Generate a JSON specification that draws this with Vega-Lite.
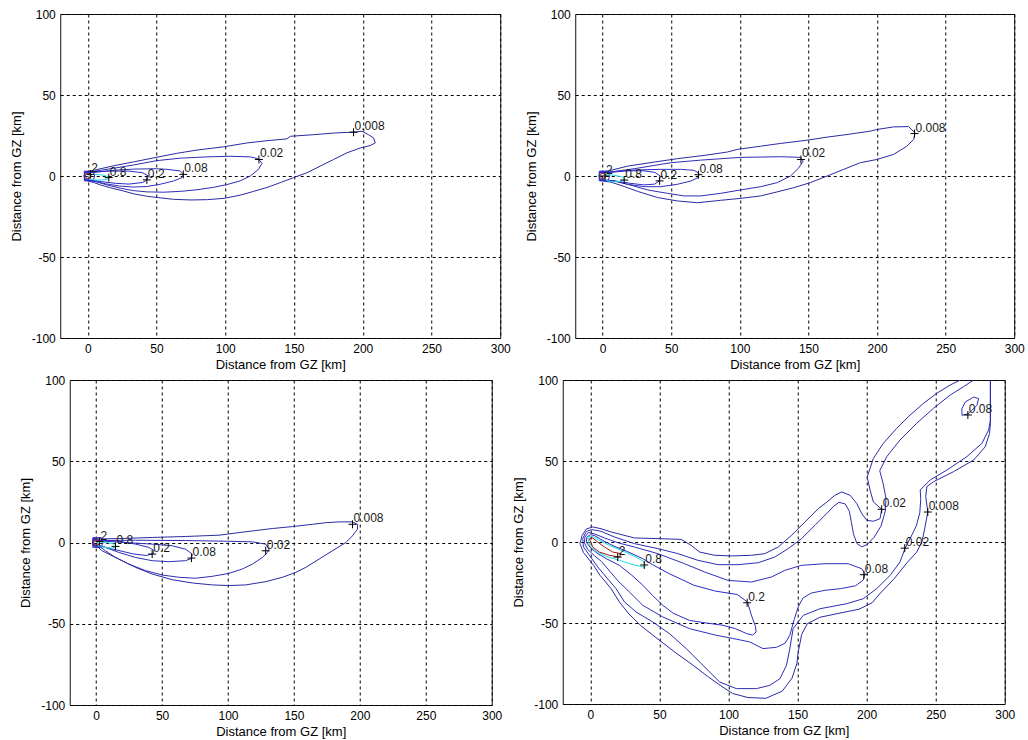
{
"$schema":"https://vega.github.io/schema/vega-lite/v6.json",
"background":"white",
"padding":{"left":9,"top":7,"right":2,"bottom":2},
"config":{
 "view":{"stroke":"#111","strokeWidth":1},
 "axis":{"domain":false,"ticks":false,"tickSize":0,"grid":true,"gridColor":"#000","gridDash":[3,3],"gridOpacity":1,"gridWidth":1,"labelFont":"Liberation Sans","labelFontSize":12,"labelColor":"#000","titleFont":"Liberation Sans","titleFontSize":13,"titleFontWeight":"normal","titleColor":"#000","labelPadding":5},
 "axisX":{"titlePadding":4},
 "axisY":{"titlePadding":8}
},
"datasets":{
"p1":[
{"c":"a","l":"0.008","x":-2,"y":2.5},{"c":"a","l":"0.008","x":4.2,"y":3.5},{"c":"a","l":"0.008","x":18.8,"y":6.3},{"c":"a","l":"0.008","x":33.3,"y":8.7},{"c":"a","l":"0.008","x":50.3,"y":11.6},{"c":"a","l":"0.008","x":64.8,"y":14},{"c":"a","l":"0.008","x":79.4,"y":16},{"c":"a","l":"0.008","x":98.8,"y":18},{"c":"a","l":"0.008","x":115.8,"y":20.4},{"c":"a","l":"0.008","x":130.3,"y":21.8},{"c":"a","l":"0.008","x":144.8,"y":22.9},{"c":"a","l":"0.008","x":147.3,"y":24.5},{"c":"a","l":"0.008","x":164.2,"y":25.5},{"c":"a","l":"0.008","x":178.8,"y":26.5},{"c":"a","l":"0.008","x":193.3,"y":27.1},{"c":"a","l":"0.008","x":199.4,"y":27.6},{"c":"a","l":"0.008","x":204.2,"y":25.5},{"c":"a","l":"0.008","x":207.9,"y":23.5},{"c":"a","l":"0.008","x":209.1,"y":20.4},{"c":"a","l":"0.008","x":205.5,"y":18.8},{"c":"a","l":"0.008","x":198.2,"y":17.3},{"c":"a","l":"0.008","x":188.5,"y":14.3},{"c":"a","l":"0.008","x":178.8,"y":10.2},{"c":"a","l":"0.008","x":169.1,"y":6.1},{"c":"a","l":"0.008","x":159.4,"y":2},{"c":"a","l":"0.008","x":149.7,"y":-1},{"c":"a","l":"0.008","x":140,"y":-4.1},{"c":"a","l":"0.008","x":130.3,"y":-7.1},{"c":"a","l":"0.008","x":120.6,"y":-9.5},{"c":"a","l":"0.008","x":111,"y":-11.8},{"c":"a","l":"0.008","x":99,"y":-13.8},{"c":"a","l":"0.008","x":87,"y":-14.6},{"c":"a","l":"0.008","x":75,"y":-14.8},{"c":"a","l":"0.008","x":62.4,"y":-14.4},{"c":"a","l":"0.008","x":52.7,"y":-13.5},{"c":"a","l":"0.008","x":43,"y":-12.5},{"c":"a","l":"0.008","x":33.4,"y":-11},{"c":"a","l":"0.008","x":26.2,"y":-9.3},{"c":"a","l":"0.008","x":16.5,"y":-7.3},{"c":"a","l":"0.008","x":9.2,"y":-5.5},{"c":"a","l":"0.008","x":4.4,"y":-4},{"c":"a","l":"0.008","x":0,"y":-3},{"c":"a","l":"0.008","x":-2,"y":-2.5},{"c":"a","l":"0.008","x":-2.5,"y":0},{"c":"a","l":"0.008","x":-2,"y":2.5},
{"c":"b","l":"0.02","x":-2,"y":2.5},{"c":"b","l":"0.02","x":4,"y":2.8},{"c":"b","l":"0.02","x":18.8,"y":4.8},{"c":"b","l":"0.02","x":33.3,"y":6.8},{"c":"b","l":"0.02","x":50.3,"y":9.5},{"c":"b","l":"0.02","x":67.3,"y":11},{"c":"b","l":"0.02","x":86.7,"y":11.8},{"c":"b","l":"0.02","x":103.6,"y":12.2},{"c":"b","l":"0.02","x":118.2,"y":11.8},{"c":"b","l":"0.02","x":124.2,"y":10.6},{"c":"b","l":"0.02","x":126.7,"y":7.8},{"c":"b","l":"0.02","x":124.2,"y":4.1},{"c":"b","l":"0.02","x":118.2,"y":0},{"c":"b","l":"0.02","x":110.9,"y":-3},{"c":"b","l":"0.02","x":101.2,"y":-5.3},{"c":"b","l":"0.02","x":91.5,"y":-7},{"c":"b","l":"0.02","x":79.4,"y":-8.5},{"c":"b","l":"0.02","x":67.3,"y":-9.5},{"c":"b","l":"0.02","x":55.2,"y":-10},{"c":"b","l":"0.02","x":43,"y":-9.8},{"c":"b","l":"0.02","x":33,"y":-9},{"c":"b","l":"0.02","x":23.6,"y":-7.5},{"c":"b","l":"0.02","x":13.9,"y":-5.5},{"c":"b","l":"0.02","x":6,"y":-3.5},{"c":"b","l":"0.02","x":0,"y":-2.8},{"c":"b","l":"0.02","x":-2,"y":-2.5},{"c":"b","l":"0.02","x":-2.5,"y":0},{"c":"b","l":"0.02","x":-2,"y":2.5},
{"c":"c","l":"0.08","x":-2,"y":2.5},{"c":"c","l":"0.08","x":4,"y":2.2},{"c":"c","l":"0.08","x":20,"y":3.6},{"c":"c","l":"0.08","x":35,"y":4.3},{"c":"c","l":"0.08","x":50,"y":4.5},{"c":"c","l":"0.08","x":57.6,"y":4.1},{"c":"c","l":"0.08","x":67.3,"y":3.1},{"c":"c","l":"0.08","x":69.7,"y":1},{"c":"c","l":"0.08","x":68.5,"y":-1},{"c":"c","l":"0.08","x":62.4,"y":-3.1},{"c":"c","l":"0.08","x":52.7,"y":-5.1},{"c":"c","l":"0.08","x":43,"y":-6.5},{"c":"c","l":"0.08","x":33,"y":-6.8},{"c":"c","l":"0.08","x":23,"y":-6.2},{"c":"c","l":"0.08","x":13,"y":-4.8},{"c":"c","l":"0.08","x":5,"y":-3.2},{"c":"c","l":"0.08","x":-2,"y":-2.5},{"c":"c","l":"0.08","x":-2.5,"y":0},{"c":"c","l":"0.08","x":-2,"y":2.5},
{"c":"d","l":"0.2","x":-2,"y":2.2},{"c":"d","l":"0.2","x":5,"y":2.5},{"c":"d","l":"0.2","x":15,"y":3},{"c":"d","l":"0.2","x":30,"y":3},{"c":"d","l":"0.2","x":40,"y":2},{"c":"d","l":"0.2","x":44,"y":0},{"c":"d","l":"0.2","x":43,"y":-2.5},{"c":"d","l":"0.2","x":40,"y":-4},{"c":"d","l":"0.2","x":30,"y":-5},{"c":"d","l":"0.2","x":20,"y":-4.5},{"c":"d","l":"0.2","x":10,"y":-3.5},{"c":"d","l":"0.2","x":3,"y":-2.5},{"c":"d","l":"0.2","x":-2,"y":-2.2},{"c":"d","l":"0.2","x":-2.5,"y":0},{"c":"d","l":"0.2","x":-2,"y":2.2},
{"c":"g","l":"0.2","x":-2.5,"y":3},{"c":"g","l":"0.2","x":4,"y":3},{"c":"g","l":"0.2","x":5,"y":0},{"c":"g","l":"0.2","x":4,"y":-3},{"c":"g","l":"0.2","x":-2.5,"y":-3},{"c":"g","l":"0.2","x":-2.5,"y":3},
{"c":"e","l":"0.8","x":1,"y":1},{"c":"e","l":"0.8","x":6,"y":1},{"c":"e","l":"0.8","x":12,"y":0.5},{"c":"e","l":"0.8","x":15.5,"y":-0.8},{"c":"e","l":"0.8","x":15,"y":-1.8},{"c":"e","l":"0.8","x":10,"y":-2.5},{"c":"e","l":"0.8","x":5,"y":-2.5},{"c":"e","l":"0.8","x":1,"y":-1.5},{"c":"e","l":"0.8","x":1,"y":1},
{"c":"f","l":"2","x":-1,"y":1.5},{"c":"f","l":"2","x":1.5,"y":1.5},{"c":"f","l":"2","x":2.5,"y":0},{"c":"f","l":"2","x":1.5,"y":-1.5},{"c":"f","l":"2","x":-1,"y":-1.5},{"c":"f","l":"2","x":-1.8,"y":0},{"c":"f","l":"2","x":-1,"y":1.5}
],
"p2":[
{"c":"a","l":"0.008","x":-2,"y":2.5},{"c":"a","l":"0.008","x":3.6,"y":3},{"c":"a","l":"0.008","x":18.2,"y":6.1},{"c":"a","l":"0.008","x":37.6,"y":8.6},{"c":"a","l":"0.008","x":54.5,"y":10.7},{"c":"a","l":"0.008","x":73.9,"y":12.7},{"c":"a","l":"0.008","x":90.9,"y":14.8},{"c":"a","l":"0.008","x":98.1,"y":16.4},{"c":"a","l":"0.008","x":115.1,"y":18.4},{"c":"a","l":"0.008","x":129.6,"y":20.1},{"c":"a","l":"0.008","x":149,"y":22.1},{"c":"a","l":"0.008","x":163.6,"y":24},{"c":"a","l":"0.008","x":178.1,"y":25.6},{"c":"a","l":"0.008","x":195.1,"y":27.7},{"c":"a","l":"0.008","x":199.9,"y":28.7},{"c":"a","l":"0.008","x":212,"y":30.3},{"c":"a","l":"0.008","x":222.9,"y":30.5},{"c":"a","l":"0.008","x":227.8,"y":26.6},{"c":"a","l":"0.008","x":226.6,"y":22.5},{"c":"a","l":"0.008","x":221.7,"y":18.4},{"c":"a","l":"0.008","x":212,"y":13.3},{"c":"a","l":"0.008","x":199.9,"y":10.2},{"c":"a","l":"0.008","x":187.8,"y":8.2},{"c":"a","l":"0.008","x":175.7,"y":4.1},{"c":"a","l":"0.008","x":163.6,"y":0},{"c":"a","l":"0.008","x":151.4,"y":-4.1},{"c":"a","l":"0.008","x":139.3,"y":-7.2},{"c":"a","l":"0.008","x":127.2,"y":-9.8},{"c":"a","l":"0.008","x":115.1,"y":-12.3},{"c":"a","l":"0.008","x":100.6,"y":-13.8},{"c":"a","l":"0.008","x":86,"y":-15},{"c":"a","l":"0.008","x":69.1,"y":-16.5},{"c":"a","l":"0.008","x":54.5,"y":-15.4},{"c":"a","l":"0.008","x":40,"y":-13.3},{"c":"a","l":"0.008","x":25.4,"y":-9.5},{"c":"a","l":"0.008","x":15.8,"y":-6.5},{"c":"a","l":"0.008","x":6.1,"y":-3.8},{"c":"a","l":"0.008","x":0,"y":-3},{"c":"a","l":"0.008","x":-2,"y":-2.5},{"c":"a","l":"0.008","x":-2.5,"y":0},{"c":"a","l":"0.008","x":-2,"y":2.5},
{"c":"b","l":"0.02","x":-2,"y":2.5},{"c":"b","l":"0.02","x":3.6,"y":2.2},{"c":"b","l":"0.02","x":23,"y":4.5},{"c":"b","l":"0.02","x":49.7,"y":8.2},{"c":"b","l":"0.02","x":71.5,"y":9.8},{"c":"b","l":"0.02","x":100.6,"y":11.5},{"c":"b","l":"0.02","x":129.6,"y":11.9},{"c":"b","l":"0.02","x":144.2,"y":11.5},{"c":"b","l":"0.02","x":146.1,"y":9.2},{"c":"b","l":"0.02","x":143,"y":5.1},{"c":"b","l":"0.02","x":136.9,"y":0},{"c":"b","l":"0.02","x":127.2,"y":-4.1},{"c":"b","l":"0.02","x":115.1,"y":-6.6},{"c":"b","l":"0.02","x":100.6,"y":-8.6},{"c":"b","l":"0.02","x":86,"y":-10.7},{"c":"b","l":"0.02","x":71.5,"y":-12.3},{"c":"b","l":"0.02","x":59.4,"y":-12.3},{"c":"b","l":"0.02","x":47.2,"y":-10.7},{"c":"b","l":"0.02","x":32.7,"y":-8.6},{"c":"b","l":"0.02","x":20.6,"y":-5.7},{"c":"b","l":"0.02","x":8.5,"y":-3},{"c":"b","l":"0.02","x":0,"y":-2.7},{"c":"b","l":"0.02","x":-2,"y":-2.5},{"c":"b","l":"0.02","x":-2.5,"y":0},{"c":"b","l":"0.02","x":-2,"y":2.5},
{"c":"c","l":"0.08","x":-2,"y":2.5},{"c":"c","l":"0.08","x":3.6,"y":2},{"c":"c","l":"0.08","x":23,"y":3.7},{"c":"c","l":"0.08","x":42.4,"y":4.1},{"c":"c","l":"0.08","x":56.9,"y":4.1},{"c":"c","l":"0.08","x":66.6,"y":3.5},{"c":"c","l":"0.08","x":70.3,"y":1.6},{"c":"c","l":"0.08","x":69.6,"y":-1},{"c":"c","l":"0.08","x":64.3,"y":-3.1},{"c":"c","l":"0.08","x":54.5,"y":-5.1},{"c":"c","l":"0.08","x":42.4,"y":-6.6},{"c":"c","l":"0.08","x":30.3,"y":-6.6},{"c":"c","l":"0.08","x":18.2,"y":-5.1},{"c":"c","l":"0.08","x":8.5,"y":-3.1},{"c":"c","l":"0.08","x":-2,"y":-2.5},{"c":"c","l":"0.08","x":-2.5,"y":0},{"c":"c","l":"0.08","x":-2,"y":2.5},
{"c":"d","l":"0.2","x":-2,"y":2.2},{"c":"d","l":"0.2","x":5,"y":2.5},{"c":"d","l":"0.2","x":15,"y":3.2},{"c":"d","l":"0.2","x":30,"y":3.2},{"c":"d","l":"0.2","x":38,"y":2.2},{"c":"d","l":"0.2","x":42,"y":0},{"c":"d","l":"0.2","x":41.2,"y":-3},{"c":"d","l":"0.2","x":38,"y":-5},{"c":"d","l":"0.2","x":30,"y":-5.5},{"c":"d","l":"0.2","x":20,"y":-4.5},{"c":"d","l":"0.2","x":10,"y":-3.2},{"c":"d","l":"0.2","x":3,"y":-2.5},{"c":"d","l":"0.2","x":-2,"y":-2.2},{"c":"d","l":"0.2","x":-2.5,"y":0},{"c":"d","l":"0.2","x":-2,"y":2.2},
{"c":"g","l":"0.2","x":-2.5,"y":3},{"c":"g","l":"0.2","x":4,"y":3},{"c":"g","l":"0.2","x":5,"y":0},{"c":"g","l":"0.2","x":4,"y":-3},{"c":"g","l":"0.2","x":-2.5,"y":-3},{"c":"g","l":"0.2","x":-2.5,"y":3},
{"c":"e","l":"0.8","x":1,"y":1},{"c":"e","l":"0.8","x":8,"y":0.5},{"c":"e","l":"0.8","x":14,"y":-0.5},{"c":"e","l":"0.8","x":16,"y":-2},{"c":"e","l":"0.8","x":12,"y":-3.5},{"c":"e","l":"0.8","x":6,"y":-3.5},{"c":"e","l":"0.8","x":1,"y":-2},{"c":"e","l":"0.8","x":1,"y":1},
{"c":"f","l":"2","x":-1,"y":1.5},{"c":"f","l":"2","x":1.5,"y":1.5},{"c":"f","l":"2","x":2.5,"y":0},{"c":"f","l":"2","x":1.5,"y":-1.5},{"c":"f","l":"2","x":-1,"y":-1.5},{"c":"f","l":"2","x":-1.8,"y":0},{"c":"f","l":"2","x":-1,"y":1.5}
],
"p3":[
{"c":"a","l":"0.008","x":-2,"y":2.5},{"c":"a","l":"0.008","x":2,"y":2.2},{"c":"a","l":"0.008","x":17.2,"y":2.4},{"c":"a","l":"0.008","x":42.5,"y":3.1},{"c":"a","l":"0.008","x":67.8,"y":3.7},{"c":"a","l":"0.008","x":93.2,"y":4.5},{"c":"a","l":"0.008","x":108.4,"y":6.1},{"c":"a","l":"0.008","x":118.5,"y":7.1},{"c":"a","l":"0.008","x":133.7,"y":8.6},{"c":"a","l":"0.008","x":148.9,"y":9.8},{"c":"a","l":"0.008","x":164.1,"y":11.2},{"c":"a","l":"0.008","x":174.2,"y":12.2},{"c":"a","l":"0.008","x":184.3,"y":12.7},{"c":"a","l":"0.008","x":194.4,"y":12.7},{"c":"a","l":"0.008","x":198.2,"y":11.2},{"c":"a","l":"0.008","x":198.2,"y":8.2},{"c":"a","l":"0.008","x":194.4,"y":4.1},{"c":"a","l":"0.008","x":189.4,"y":0},{"c":"a","l":"0.008","x":179.2,"y":-5.1},{"c":"a","l":"0.008","x":169.1,"y":-10.2},{"c":"a","l":"0.008","x":159,"y":-15.3},{"c":"a","l":"0.008","x":151.4,"y":-18.4},{"c":"a","l":"0.008","x":141.3,"y":-21.4},{"c":"a","l":"0.008","x":128.6,"y":-24.1},{"c":"a","l":"0.008","x":113.4,"y":-26.1},{"c":"a","l":"0.008","x":100.8,"y":-26.5},{"c":"a","l":"0.008","x":88.1,"y":-26.1},{"c":"a","l":"0.008","x":72.9,"y":-24.9},{"c":"a","l":"0.008","x":57.7,"y":-22.9},{"c":"a","l":"0.008","x":42.5,"y":-19.4},{"c":"a","l":"0.008","x":29.9,"y":-15.3},{"c":"a","l":"0.008","x":19.7,"y":-11.2},{"c":"a","l":"0.008","x":12.2,"y":-8.2},{"c":"a","l":"0.008","x":4.6,"y":-5.1},{"c":"a","l":"0.008","x":0.8,"y":-2.5},{"c":"a","l":"0.008","x":-2,"y":-2},{"c":"a","l":"0.008","x":-2.5,"y":0},{"c":"a","l":"0.008","x":-2,"y":2.5},
{"c":"b","l":"0.02","x":-2,"y":2.2},{"c":"b","l":"0.02","x":2,"y":1.2},{"c":"b","l":"0.02","x":29.9,"y":1.4},{"c":"b","l":"0.02","x":67.8,"y":1.2},{"c":"b","l":"0.02","x":98.2,"y":0.8},{"c":"b","l":"0.02","x":118.5,"y":0.4},{"c":"b","l":"0.02","x":128.6,"y":-1},{"c":"b","l":"0.02","x":131.1,"y":-4.1},{"c":"b","l":"0.02","x":129.9,"y":-6.1},{"c":"b","l":"0.02","x":126.1,"y":-9.2},{"c":"b","l":"0.02","x":118.5,"y":-13.3},{"c":"b","l":"0.02","x":110.9,"y":-16.3},{"c":"b","l":"0.02","x":100.8,"y":-19},{"c":"b","l":"0.02","x":88.1,"y":-20.8},{"c":"b","l":"0.02","x":75.4,"y":-22},{"c":"b","l":"0.02","x":62.8,"y":-21.4},{"c":"b","l":"0.02","x":50.1,"y":-20},{"c":"b","l":"0.02","x":37.5,"y":-17.3},{"c":"b","l":"0.02","x":24.8,"y":-13.3},{"c":"b","l":"0.02","x":14.7,"y":-9.2},{"c":"b","l":"0.02","x":7.1,"y":-5.1},{"c":"b","l":"0.02","x":2,"y":-2},{"c":"b","l":"0.02","x":-2,"y":-2},{"c":"b","l":"0.02","x":-2.5,"y":0},{"c":"b","l":"0.02","x":-2,"y":2.2},
{"c":"c","l":"0.08","x":-2,"y":2},{"c":"c","l":"0.08","x":2,"y":1},{"c":"c","l":"0.08","x":22.3,"y":0},{"c":"c","l":"0.08","x":42.5,"y":-1},{"c":"c","l":"0.08","x":57.7,"y":-2},{"c":"c","l":"0.08","x":67.8,"y":-4.1},{"c":"c","l":"0.08","x":72.9,"y":-7.1},{"c":"c","l":"0.08","x":72.4,"y":-9.8},{"c":"c","l":"0.08","x":67.8,"y":-11.2},{"c":"c","l":"0.08","x":55.2,"y":-11.8},{"c":"c","l":"0.08","x":42.5,"y":-11.2},{"c":"c","l":"0.08","x":29.9,"y":-9.2},{"c":"c","l":"0.08","x":17.2,"y":-6.1},{"c":"c","l":"0.08","x":7.1,"y":-3.1},{"c":"c","l":"0.08","x":2,"y":-1.5},{"c":"c","l":"0.08","x":-2,"y":-2},{"c":"c","l":"0.08","x":-2.5,"y":0},{"c":"c","l":"0.08","x":-2,"y":2},
{"c":"d","l":"0.2","x":-2,"y":2},{"c":"d","l":"0.2","x":2,"y":1.5},{"c":"d","l":"0.2","x":15,"y":1},{"c":"d","l":"0.2","x":30,"y":-1},{"c":"d","l":"0.2","x":40,"y":-3},{"c":"d","l":"0.2","x":44,"y":-5},{"c":"d","l":"0.2","x":43,"y":-7},{"c":"d","l":"0.2","x":38,"y":-8},{"c":"d","l":"0.2","x":28,"y":-7},{"c":"d","l":"0.2","x":15,"y":-4.5},{"c":"d","l":"0.2","x":5,"y":-2.5},{"c":"d","l":"0.2","x":-2,"y":-2},{"c":"d","l":"0.2","x":-2.5,"y":0},{"c":"d","l":"0.2","x":-2,"y":2},
{"c":"g","l":"0.2","x":-2.5,"y":3},{"c":"g","l":"0.2","x":4,"y":3},{"c":"g","l":"0.2","x":5,"y":0},{"c":"g","l":"0.2","x":4,"y":-3},{"c":"g","l":"0.2","x":-2.5,"y":-3},{"c":"g","l":"0.2","x":-2.5,"y":3},
{"c":"e","l":"0.8","x":1,"y":0.5},{"c":"e","l":"0.8","x":8,"y":0},{"c":"e","l":"0.8","x":14,"y":-1},{"c":"e","l":"0.8","x":15.5,"y":-2.5},{"c":"e","l":"0.8","x":12,"y":-3.5},{"c":"e","l":"0.8","x":6,"y":-3},{"c":"e","l":"0.8","x":1,"y":-1.5},{"c":"e","l":"0.8","x":1,"y":0.5},
{"c":"f","l":"2","x":-1,"y":1.5},{"c":"f","l":"2","x":1.5,"y":1.5},{"c":"f","l":"2","x":2.5,"y":0},{"c":"f","l":"2","x":1.5,"y":-1.5},{"c":"f","l":"2","x":-1,"y":-1.5},{"c":"f","l":"2","x":-1.8,"y":0},{"c":"f","l":"2","x":-1,"y":1.5}
],
"p4":[
{"c":"a","l":"0.008","x":267.8,"y":100},{"c":"a","l":"0.008","x":260.5,"y":96.9},{"c":"a","l":"0.008","x":250.8,"y":91.8},{"c":"a","l":"0.008","x":241.2,"y":85.6},{"c":"a","l":"0.008","x":231.5,"y":78.4},{"c":"a","l":"0.008","x":221.8,"y":70.2},{"c":"a","l":"0.008","x":212.1,"y":60.9},{"c":"a","l":"0.008","x":204.9,"y":51.6},{"c":"a","l":"0.008","x":200.4,"y":40.1},{"c":"a","l":"0.008","x":202.5,"y":32},{"c":"a","l":"0.008","x":204.9,"y":24.7},{"c":"a","l":"0.008","x":210.9,"y":20.2},{"c":"a","l":"0.008","x":209.7,"y":14.4},{"c":"a","l":"0.008","x":204.9,"y":12.8},{"c":"a","l":"0.008","x":200.1,"y":13.4},{"c":"a","l":"0.008","x":196.5,"y":17.5},{"c":"a","l":"0.008","x":192.9,"y":23.7},{"c":"a","l":"0.008","x":188.1,"y":28.8},{"c":"a","l":"0.008","x":182,"y":30.9},{"c":"a","l":"0.008","x":177,"y":28.8},{"c":"a","l":"0.008","x":171,"y":24.5},{"c":"a","l":"0.008","x":165,"y":20.6},{"c":"a","l":"0.008","x":155.3,"y":12.3},{"c":"a","l":"0.008","x":145.6,"y":4.1},{"c":"a","l":"0.008","x":136,"y":-3.1},{"c":"a","l":"0.008","x":126.3,"y":-7.2},{"c":"a","l":"0.008","x":116.6,"y":-8.2},{"c":"a","l":"0.008","x":102.1,"y":-8.6},{"c":"a","l":"0.008","x":90,"y":-8.2},{"c":"a","l":"0.008","x":79.1,"y":-6.2},{"c":"a","l":"0.008","x":73,"y":-2.1},{"c":"a","l":"0.008","x":65.8,"y":1.6},{"c":"a","l":"0.008","x":48.9,"y":2.1},{"c":"a","l":"0.008","x":31.9,"y":2.5},{"c":"a","l":"0.008","x":15,"y":6.2},{"c":"a","l":"0.008","x":7.7,"y":8.2},{"c":"a","l":"0.008","x":1.7,"y":9.3},{"c":"a","l":"0.008","x":-3,"y":8},{"c":"a","l":"0.008","x":-6,"y":4},{"c":"a","l":"0.008","x":-7.5,"y":-1},{"c":"a","l":"0.008","x":-5,"y":-6.5},{"c":"a","l":"0.008","x":2.3,"y":-14.4},{"c":"a","l":"0.008","x":7,"y":-20.6},{"c":"a","l":"0.008","x":15,"y":-28.8},{"c":"a","l":"0.008","x":21,"y":-37},{"c":"a","l":"0.008","x":28,"y":-44.5},{"c":"a","l":"0.008","x":37,"y":-52},{"c":"a","l":"0.008","x":49,"y":-60},{"c":"a","l":"0.008","x":62,"y":-68.5},{"c":"a","l":"0.008","x":75,"y":-76.5},{"c":"a","l":"0.008","x":85,"y":-83},{"c":"a","l":"0.008","x":94,"y":-88.5},{"c":"a","l":"0.008","x":103,"y":-93.5},{"c":"a","l":"0.008","x":114,"y":-96},{"c":"a","l":"0.008","x":127,"y":-96.5},{"c":"a","l":"0.008","x":139,"y":-92},{"c":"a","l":"0.008","x":146,"y":-84},{"c":"a","l":"0.008","x":149.5,"y":-75},{"c":"a","l":"0.008","x":150.5,"y":-67.9},{"c":"a","l":"0.008","x":153,"y":-57},{"c":"a","l":"0.008","x":157,"y":-50.5},{"c":"a","l":"0.008","x":166,"y":-46.5},{"c":"a","l":"0.008","x":180,"y":-44},{"c":"a","l":"0.008","x":194.5,"y":-41.5},{"c":"a","l":"0.008","x":204,"y":-37.5},{"c":"a","l":"0.008","x":210,"y":-31.5},{"c":"a","l":"0.008","x":220,"y":-22.6},{"c":"a","l":"0.008","x":229.5,"y":-12.5},{"c":"a","l":"0.008","x":236.3,"y":-6.2},{"c":"a","l":"0.008","x":240,"y":0},{"c":"a","l":"0.008","x":242,"y":8},{"c":"a","l":"0.008","x":244.3,"y":18.5},{"c":"a","l":"0.008","x":242.8,"y":28},{"c":"a","l":"0.008","x":243.6,"y":34.2},{"c":"a","l":"0.008","x":248.4,"y":37.2},{"c":"a","l":"0.008","x":262.9,"y":43.4},{"c":"a","l":"0.008","x":277.5,"y":50.6},{"c":"a","l":"0.008","x":285.9,"y":58.8},{"c":"a","l":"0.008","x":289,"y":67.1},{"c":"a","l":"0.008","x":289.6,"y":73.3},{"c":"a","l":"0.008","x":289.6,"y":100},
{"c":"b","l":"0.02","x":277.5,"y":100},{"c":"b","l":"0.02","x":270.2,"y":95.9},{"c":"b","l":"0.02","x":260.5,"y":90.7},{"c":"b","l":"0.02","x":248.4,"y":82.5},{"c":"b","l":"0.02","x":236.3,"y":73.3},{"c":"b","l":"0.02","x":224.2,"y":63},{"c":"b","l":"0.02","x":214.6,"y":52.7},{"c":"b","l":"0.02","x":209.5,"y":44},{"c":"b","l":"0.02","x":212,"y":36},{"c":"b","l":"0.02","x":214,"y":27},{"c":"b","l":"0.02","x":213.5,"y":19},{"c":"b","l":"0.02","x":210.5,"y":10},{"c":"b","l":"0.02","x":205.5,"y":3},{"c":"b","l":"0.02","x":200.5,"y":-1.5},{"c":"b","l":"0.02","x":196.5,"y":-3},{"c":"b","l":"0.02","x":193,"y":-1},{"c":"b","l":"0.02","x":190.5,"y":5},{"c":"b","l":"0.02","x":189,"y":12},{"c":"b","l":"0.02","x":187.5,"y":19},{"c":"b","l":"0.02","x":184.5,"y":23.5},{"c":"b","l":"0.02","x":180,"y":24.5},{"c":"b","l":"0.02","x":176,"y":22},{"c":"b","l":"0.02","x":172.2,"y":18.5},{"c":"b","l":"0.02","x":162.6,"y":10.3},{"c":"b","l":"0.02","x":152.9,"y":2.1},{"c":"b","l":"0.02","x":143.2,"y":-4.1},{"c":"b","l":"0.02","x":133.5,"y":-9.3},{"c":"b","l":"0.02","x":121.4,"y":-12.8},{"c":"b","l":"0.02","x":106.9,"y":-14},{"c":"b","l":"0.02","x":92.4,"y":-14},{"c":"b","l":"0.02","x":77.9,"y":-11.3},{"c":"b","l":"0.02","x":63.4,"y":-7.2},{"c":"b","l":"0.02","x":48.9,"y":-4.1},{"c":"b","l":"0.02","x":31.9,"y":-1},{"c":"b","l":"0.02","x":17.4,"y":3.1},{"c":"b","l":"0.02","x":7.7,"y":6.6},{"c":"b","l":"0.02","x":1,"y":7.7},{"c":"b","l":"0.02","x":-3,"y":6.5},{"c":"b","l":"0.02","x":-5.5,"y":2},{"c":"b","l":"0.02","x":-5,"y":-3},{"c":"b","l":"0.02","x":-0.7,"y":-8.2},{"c":"b","l":"0.02","x":5.3,"y":-15.4},{"c":"b","l":"0.02","x":11.4,"y":-21.6},{"c":"b","l":"0.02","x":18.6,"y":-28.8},{"c":"b","l":"0.02","x":24.7,"y":-37},{"c":"b","l":"0.02","x":33.1,"y":-43.2},{"c":"b","l":"0.02","x":45.2,"y":-49.4},{"c":"b","l":"0.02","x":57.3,"y":-56.6},{"c":"b","l":"0.02","x":69.4,"y":-65.8},{"c":"b","l":"0.02","x":81.5,"y":-76.1},{"c":"b","l":"0.02","x":93.6,"y":-86.4},{"c":"b","l":"0.02","x":105.7,"y":-90.5},{"c":"b","l":"0.02","x":120.2,"y":-90.5},{"c":"b","l":"0.02","x":129.9,"y":-88.5},{"c":"b","l":"0.02","x":137.2,"y":-84.4},{"c":"b","l":"0.02","x":142,"y":-76.1},{"c":"b","l":"0.02","x":144.4,"y":-65.8},{"c":"b","l":"0.02","x":146.8,"y":-53.5},{"c":"b","l":"0.02","x":154.1,"y":-45.3},{"c":"b","l":"0.02","x":166.2,"y":-41.2},{"c":"b","l":"0.02","x":185.5,"y":-38.1},{"c":"b","l":"0.02","x":197.6,"y":-35},{"c":"b","l":"0.02","x":207.3,"y":-28.8},{"c":"b","l":"0.02","x":217,"y":-20.6},{"c":"b","l":"0.02","x":224.2,"y":-12.3},{"c":"b","l":"0.02","x":227.9,"y":-3.7},{"c":"b","l":"0.02","x":232,"y":3},{"c":"b","l":"0.02","x":236,"y":10},{"c":"b","l":"0.02","x":238.5,"y":18},{"c":"b","l":"0.02","x":239.2,"y":26.7},{"c":"b","l":"0.02","x":238.8,"y":32.1},{"c":"b","l":"0.02","x":246,"y":38.3},{"c":"b","l":"0.02","x":258.1,"y":44.4},{"c":"b","l":"0.02","x":272.6,"y":52.7},{"c":"b","l":"0.02","x":283.5,"y":60.9},{"c":"b","l":"0.02","x":288.3,"y":69.1},{"c":"b","l":"0.02","x":289.6,"y":75},{"c":"b","l":"0.02","x":289.6,"y":100},
{"c":"c","l":"0.08","x":-1.5,"y":5.8},{"c":"c","l":"0.08","x":3,"y":5},{"c":"c","l":"0.08","x":10.2,"y":2.5},{"c":"c","l":"0.08","x":20,"y":-0.5},{"c":"c","l":"0.08","x":31.9,"y":-3.1},{"c":"c","l":"0.08","x":48.9,"y":-7.2},{"c":"c","l":"0.08","x":68.2,"y":-13.4},{"c":"c","l":"0.08","x":82.7,"y":-18.5},{"c":"c","l":"0.08","x":99.7,"y":-23.7},{"c":"c","l":"0.08","x":116.6,"y":-24.7},{"c":"c","l":"0.08","x":131.1,"y":-21.6},{"c":"c","l":"0.08","x":140.8,"y":-17.5},{"c":"c","l":"0.08","x":152.9,"y":-14.4},{"c":"c","l":"0.08","x":169.8,"y":-13.4},{"c":"c","l":"0.08","x":186.7,"y":-13.4},{"c":"c","l":"0.08","x":196.4,"y":-16.5},{"c":"c","l":"0.08","x":198.8,"y":-19.5},{"c":"c","l":"0.08","x":197.6,"y":-23.5},{"c":"c","l":"0.08","x":192,"y":-27},{"c":"c","l":"0.08","x":182,"y":-28.7},{"c":"c","l":"0.08","x":170,"y":-29.8},{"c":"c","l":"0.08","x":160,"y":-31.5},{"c":"c","l":"0.08","x":154,"y":-34.5},{"c":"c","l":"0.08","x":150.5,"y":-40},{"c":"c","l":"0.08","x":147.5,"y":-48},{"c":"c","l":"0.08","x":144.4,"y":-57.6},{"c":"c","l":"0.08","x":141,"y":-62.5},{"c":"c","l":"0.08","x":134.7,"y":-65},{"c":"c","l":"0.08","x":125,"y":-65.8},{"c":"c","l":"0.08","x":115.4,"y":-61.7},{"c":"c","l":"0.08","x":103,"y":-59.5},{"c":"c","l":"0.08","x":91.2,"y":-57.6},{"c":"c","l":"0.08","x":71.8,"y":-53.5},{"c":"c","l":"0.08","x":52.5,"y":-46.3},{"c":"c","l":"0.08","x":38,"y":-39.1},{"c":"c","l":"0.08","x":28.3,"y":-30.9},{"c":"c","l":"0.08","x":20,"y":-24},{"c":"c","l":"0.08","x":14,"y":-18},{"c":"c","l":"0.08","x":8,"y":-12},{"c":"c","l":"0.08","x":3,"y":-8.5},{"c":"c","l":"0.08","x":-2,"y":-4.5},{"c":"c","l":"0.08","x":-4.3,"y":-0.5},{"c":"c","l":"0.08","x":-4,"y":3},{"c":"c","l":"0.08","x":-1.5,"y":5.8},
{"c":"d","l":"0.2","x":0,"y":4.5},{"c":"d","l":"0.2","x":3,"y":4},{"c":"d","l":"0.2","x":7.7,"y":1.5},{"c":"d","l":"0.2","x":17,"y":-2.5},{"c":"d","l":"0.2","x":27.1,"y":-6},{"c":"d","l":"0.2","x":38,"y":-10.3},{"c":"d","l":"0.2","x":45,"y":-14},{"c":"d","l":"0.2","x":57,"y":-19.5},{"c":"d","l":"0.2","x":75,"y":-26.7},{"c":"d","l":"0.2","x":90.5,"y":-30.3},{"c":"d","l":"0.2","x":106.3,"y":-32.4},{"c":"d","l":"0.2","x":113.7,"y":-37},{"c":"d","l":"0.2","x":116.5,"y":-45},{"c":"d","l":"0.2","x":119.5,"y":-52},{"c":"d","l":"0.2","x":120,"y":-55.5},{"c":"d","l":"0.2","x":117.5,"y":-57.5},{"c":"d","l":"0.2","x":113,"y":-56.5},{"c":"d","l":"0.2","x":105,"y":-53.5},{"c":"d","l":"0.2","x":96,"y":-51.4},{"c":"d","l":"0.2","x":84,"y":-50},{"c":"d","l":"0.2","x":71.8,"y":-48.4},{"c":"d","l":"0.2","x":60,"y":-44},{"c":"d","l":"0.2","x":52.5,"y":-39.1},{"c":"d","l":"0.2","x":45,"y":-33},{"c":"d","l":"0.2","x":38,"y":-26.7},{"c":"d","l":"0.2","x":30,"y":-20.5},{"c":"d","l":"0.2","x":21,"y":-14.4},{"c":"d","l":"0.2","x":12,"y":-10.5},{"c":"d","l":"0.2","x":5,"y":-7},{"c":"d","l":"0.2","x":0,"y":-3.5},{"c":"d","l":"0.2","x":-3,"y":0},{"c":"d","l":"0.2","x":-2.5,"y":3},{"c":"d","l":"0.2","x":0,"y":4.5},
{"c":"e","l":"0.8","x":-1.9,"y":3.1},{"c":"e","l":"0.8","x":1.7,"y":3.5},{"c":"e","l":"0.8","x":6.5,"y":1},{"c":"e","l":"0.8","x":13.8,"y":-2.1},{"c":"e","l":"0.8","x":23.5,"y":-5.5},{"c":"e","l":"0.8","x":33.1,"y":-9.3},{"c":"e","l":"0.8","x":38.5,"y":-12},{"c":"e","l":"0.8","x":39.5,"y":-14},{"c":"e","l":"0.8","x":39.2,"y":-15.5},{"c":"e","l":"0.8","x":30.7,"y":-14},{"c":"e","l":"0.8","x":21,"y":-11.3},{"c":"e","l":"0.8","x":11.4,"y":-8.8},{"c":"e","l":"0.8","x":4.1,"y":-5.8},{"c":"e","l":"0.8","x":-0.7,"y":-2.1},{"c":"e","l":"0.8","x":-1.9,"y":3.1},
{"c":"f","l":"2","x":-0.7,"y":2.1},{"c":"f","l":"2","x":1.7,"y":2.5},{"c":"f","l":"2","x":5.3,"y":0},{"c":"f","l":"2","x":10.2,"y":-3.1},{"c":"f","l":"2","x":16.2,"y":-6.2},{"c":"f","l":"2","x":22.3,"y":-7.2},{"c":"f","l":"2","x":21,"y":-9.3},{"c":"f","l":"2","x":13.8,"y":-8.2},{"c":"f","l":"2","x":6.5,"y":-6.2},{"c":"f","l":"2","x":1.7,"y":-3.1},{"c":"f","l":"2","x":-0.7,"y":2.1},
{"c":"h","l":"0.08","x":269,"y":82.3},{"c":"h","l":"0.08","x":271.4,"y":86.4},{"c":"h","l":"0.08","x":277.5,"y":89.5},{"c":"h","l":"0.08","x":281.1,"y":88.5},{"c":"h","l":"0.08","x":279.9,"y":84.4},{"c":"h","l":"0.08","x":273.8,"y":79.2},{"c":"h","l":"0.08","x":269,"y":78.2},{"c":"h","l":"0.08","x":269,"y":82.3}
],
"t1":[{"t":"0.008","x":193.3,"y":27},{"t":"0.02","x":124.5,"y":10.2},{"t":"0.08","x":69.5,"y":1},{"t":"0.2","x":43,"y":-2.4},{"t":"0.8","x":15.3,"y":-1},{"t":"2","x":1.9,"y":1}],
"t2":[{"t":"0.008","x":227.3,"y":26.2},{"t":"0.02","x":144.5,"y":10.2},{"t":"0.08","x":69.8,"y":0.8},{"t":"0.2","x":41.5,"y":-3},{"t":"0.8","x":15.7,"y":-2.5},{"t":"2","x":1.7,"y":0}],
"t3":[{"t":"0.008","x":194.4,"y":11.2},{"t":"0.02","x":128.6,"y":-5.1},{"t":"0.08","x":72.3,"y":-9.6},{"t":"0.2","x":42.5,"y":-7.1},{"t":"0.8","x":14.7,"y":-2.4},{"t":"2","x":2.5,"y":0.6}],
"t4":[{"t":"0.08","x":273.3,"y":78.4},{"t":"0.02","x":210.9,"y":20.2},{"t":"0.008","x":244.3,"y":18.5},{"t":"0.02","x":227.6,"y":-3.8},{"t":"0.08","x":198,"y":-20.2},{"t":"0.2","x":113.5,"y":-37.5},{"t":"0.8","x":39,"y":-14.2},{"t":"2","x":19.8,"y":-9.3}]
},
"spacing":1,
"center":true,
"vconcat":[
{"spacing":13,"hconcat":[
 {"width":440,"height":324,
  "encoding":{"x":{"field":"x","type":"quantitative","scale":{"domain":[-20,300],"nice":false,"zero":false},"axis":{"values":[0,50,100,150,200,250,300],"title":"Distance from GZ [km]","labelExpr":"''+datum.value","labelFlush":false}},
   "y":{"field":"y","type":"quantitative","scale":{"domain":[-100,100],"nice":false,"zero":false},"axis":{"values":[-100,-50,0,50,100],"title":"Distance from GZ [km]","labelExpr":"''+datum.value","labelFlush":false}}},
  "layer":[
   {"data":{"name":"p1"},"mark":{"type":"line","strokeWidth":1,"clip":true},"encoding":{"detail":{"field":"c"},"color":{"field":"l","type":"nominal","scale":{"domain":["0.008","0.02","0.08","0.2","0.8","2"],"range":["#2a2aa2","#2e2eb0","#3030bc","#2c2cc8","#20dcdc","#a01818"]},"legend":null},"order":{"value":null}}},
   {"data":{"name":"t1"},"mark":{"type":"point","shape":"M-1,0L1,0M0,-1L0,1","filled":false,"color":"#000","strokeWidth":1,"size":64,"opacity":1}},
   {"data":{"name":"t1"},"mark":{"type":"text","align":"left","baseline":"alphabetic","dx":1,"dy":-2,"font":"Liberation Sans","fontSize":12,"color":"#1a1a1a"},"encoding":{"text":{"field":"t"}}}
  ]},
 {"width":439,"height":324,
  "encoding":{"x":{"field":"x","type":"quantitative","scale":{"domain":[-20,300],"nice":false,"zero":false},"axis":{"values":[0,50,100,150,200,250,300],"title":"Distance from GZ [km]","labelExpr":"''+datum.value","labelFlush":false}},
   "y":{"field":"y","type":"quantitative","scale":{"domain":[-100,100],"nice":false,"zero":false},"axis":{"values":[-100,-50,0,50,100],"title":"Distance from GZ [km]","labelExpr":"''+datum.value","labelFlush":false}}},
  "layer":[
   {"data":{"name":"p2"},"mark":{"type":"line","strokeWidth":1,"clip":true},"encoding":{"detail":{"field":"c"},"color":{"field":"l","type":"nominal","scale":{"domain":["0.008","0.02","0.08","0.2","0.8","2"],"range":["#2a2aa2","#2e2eb0","#3030bc","#2c2cc8","#20dcdc","#a01818"]},"legend":null},"order":{"value":null}}},
   {"data":{"name":"t2"},"mark":{"type":"point","shape":"M-1,0L1,0M0,-1L0,1","filled":false,"color":"#000","strokeWidth":1,"size":64,"opacity":1}},
   {"data":{"name":"t2"},"mark":{"type":"text","align":"left","baseline":"alphabetic","dx":1,"dy":-2,"font":"Liberation Sans","fontSize":12,"color":"#1a1a1a"},"encoding":{"text":{"field":"t"}}}
  ]}
]},
{"spacing":9,"hconcat":[
 {"width":422,"height":325,
  "encoding":{"x":{"field":"x","type":"quantitative","scale":{"domain":[-20,300],"nice":false,"zero":false},"axis":{"values":[0,50,100,150,200,250,300],"title":"Distance from GZ [km]","labelExpr":"''+datum.value","labelFlush":false}},
   "y":{"field":"y","type":"quantitative","scale":{"domain":[-100,100],"nice":false,"zero":false},"axis":{"values":[-100,-50,0,50,100],"title":"Distance from GZ [km]","labelExpr":"''+datum.value","labelFlush":false}}},
  "layer":[
   {"data":{"name":"p3"},"mark":{"type":"line","strokeWidth":1,"clip":true},"encoding":{"detail":{"field":"c"},"color":{"field":"l","type":"nominal","scale":{"domain":["0.008","0.02","0.08","0.2","0.8","2"],"range":["#2a2aa2","#2e2eb0","#3030bc","#2c2cc8","#20dcdc","#a01818"]},"legend":null},"order":{"value":null}}},
   {"data":{"name":"t3"},"mark":{"type":"point","shape":"M-1,0L1,0M0,-1L0,1","filled":false,"color":"#000","strokeWidth":1,"size":64,"opacity":1}},
   {"data":{"name":"t3"},"mark":{"type":"text","align":"left","baseline":"alphabetic","dx":1,"dy":-2,"font":"Liberation Sans","fontSize":12,"color":"#1a1a1a"},"encoding":{"text":{"field":"t"}}}
  ]},
 {"width":442,"height":324,
  "encoding":{"x":{"field":"x","type":"quantitative","scale":{"domain":[-20,300],"nice":false,"zero":false},"axis":{"values":[0,50,100,150,200,250,300],"title":"Distance from GZ [km]","labelExpr":"''+datum.value","labelFlush":false}},
   "y":{"field":"y","type":"quantitative","scale":{"domain":[-100,100],"nice":false,"zero":false},"axis":{"values":[-100,-50,0,50,100],"title":"Distance from GZ [km]","labelExpr":"''+datum.value","labelFlush":false}}},
  "layer":[
   {"data":{"name":"p4"},"mark":{"type":"line","strokeWidth":1,"clip":true},"encoding":{"detail":{"field":"c"},"color":{"field":"l","type":"nominal","scale":{"domain":["0.008","0.02","0.08","0.2","0.8","2"],"range":["#2a2aa2","#2e2eb0","#3030bc","#2c2cc8","#20dcdc","#a01818"]},"legend":null},"order":{"value":null}}},
   {"data":{"name":"t4"},"mark":{"type":"point","shape":"M-1,0L1,0M0,-1L0,1","filled":false,"color":"#000","strokeWidth":1,"size":64,"opacity":1}},
   {"data":{"name":"t4"},"mark":{"type":"text","align":"left","baseline":"alphabetic","dx":1,"dy":-2,"font":"Liberation Sans","fontSize":12,"color":"#1a1a1a"},"encoding":{"text":{"field":"t"}}}
  ]}
]}
]
}
